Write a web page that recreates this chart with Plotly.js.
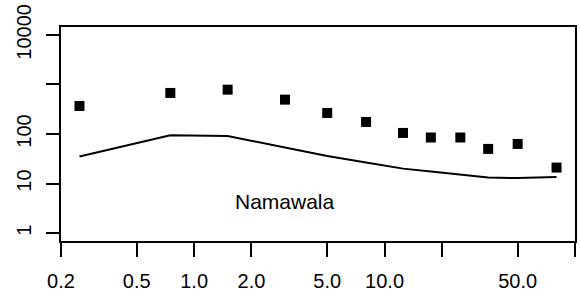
<!DOCTYPE html>
<html>
<head>
<meta charset="utf-8">
<script src="https://cdn.plot.ly/plotly-3.0.1.min.js"></script>
<style>html,body{margin:0;padding:0;background:#fff;}#chart{width:580px;height:299px;}</style>
</head>
<body>
<div id="chart"></div>
<script>
const ages = [0.25, 0.75, 1.5, 3, 5, 8, 12.5, 17.5, 25, 35, 50, 80];
const observed = [368, 674, 785, 494, 266, 175, 105, 85, 85, 50, 63, 21];
const predicted = [35, 94, 91, 54, 36, 26.5, 20, 17.5, 15.2, 13.2, 12.9, 13.6];
const xTickVals = [0.2, 0.5, 1, 2, 5, 10, 20, 50, 100];
const xTickText = ['0.2', '0.5', '1.0', '2.0', '5.0', '10.0', '', '50.0', ''];
const yTickVals = [1, 10, 100, 1000, 10000];
const yTickText = ['1', '10', '100', '', '10000'];
const label = 'Namawala';

const font = {family: 'Liberation Sans, Arial, sans-serif', size: 20, color: '#000'};

const data = [
  {x: ages, y: observed, type: 'scatter', mode: 'markers',
   marker: {symbol: 'square', size: 10, color: '#000'}, hoverinfo: 'none'},
  {x: ages, y: predicted, type: 'scatter', mode: 'lines',
   line: {color: '#000', width: 2}, hoverinfo: 'none'}
];

const layout = {
  width: 580, height: 299,
  margin: {l: 61, r: 5, t: 27, b: 58},
  paper_bgcolor: '#fff', plot_bgcolor: '#fff',
  showlegend: false,
  font: font,
  xaxis: {
    type: 'log', range: [Math.log10(0.2), 2],
    tickmode: 'array', tickvals: xTickVals, ticktext: xTickText,
    ticks: 'outside', ticklen: 14, tickwidth: 2, tickcolor: '#000',
    showline: true, linewidth: 2, linecolor: '#000', mirror: true,
    showgrid: false, zeroline: false, tickfont: font, ticklabelstandoff: 7
  },
  yaxis: {
    type: 'log', range: [-0.16, 4.16],
    tickmode: 'array', tickvals: yTickVals, ticktext: yTickText,
    ticks: 'outside', ticklen: 13, tickwidth: 2, tickcolor: '#000',
    showline: true, linewidth: 2, linecolor: '#000', mirror: true,
    showgrid: false, zeroline: false, tickfont: font, tickangle: -90,
    ticklabelstandoff: 7
  },
  annotations: [{
    x: Math.log10(3), y: 0.637, xref: 'x', yref: 'y', text: label,
    showarrow: false, font: {family: font.family, size: 21, color: '#000'},
    xanchor: 'center', yanchor: 'middle'
  }]
};

Plotly.newPlot('chart', data, layout, {staticPlot: true, displayModeBar: false});
</script>
</body>
</html>
